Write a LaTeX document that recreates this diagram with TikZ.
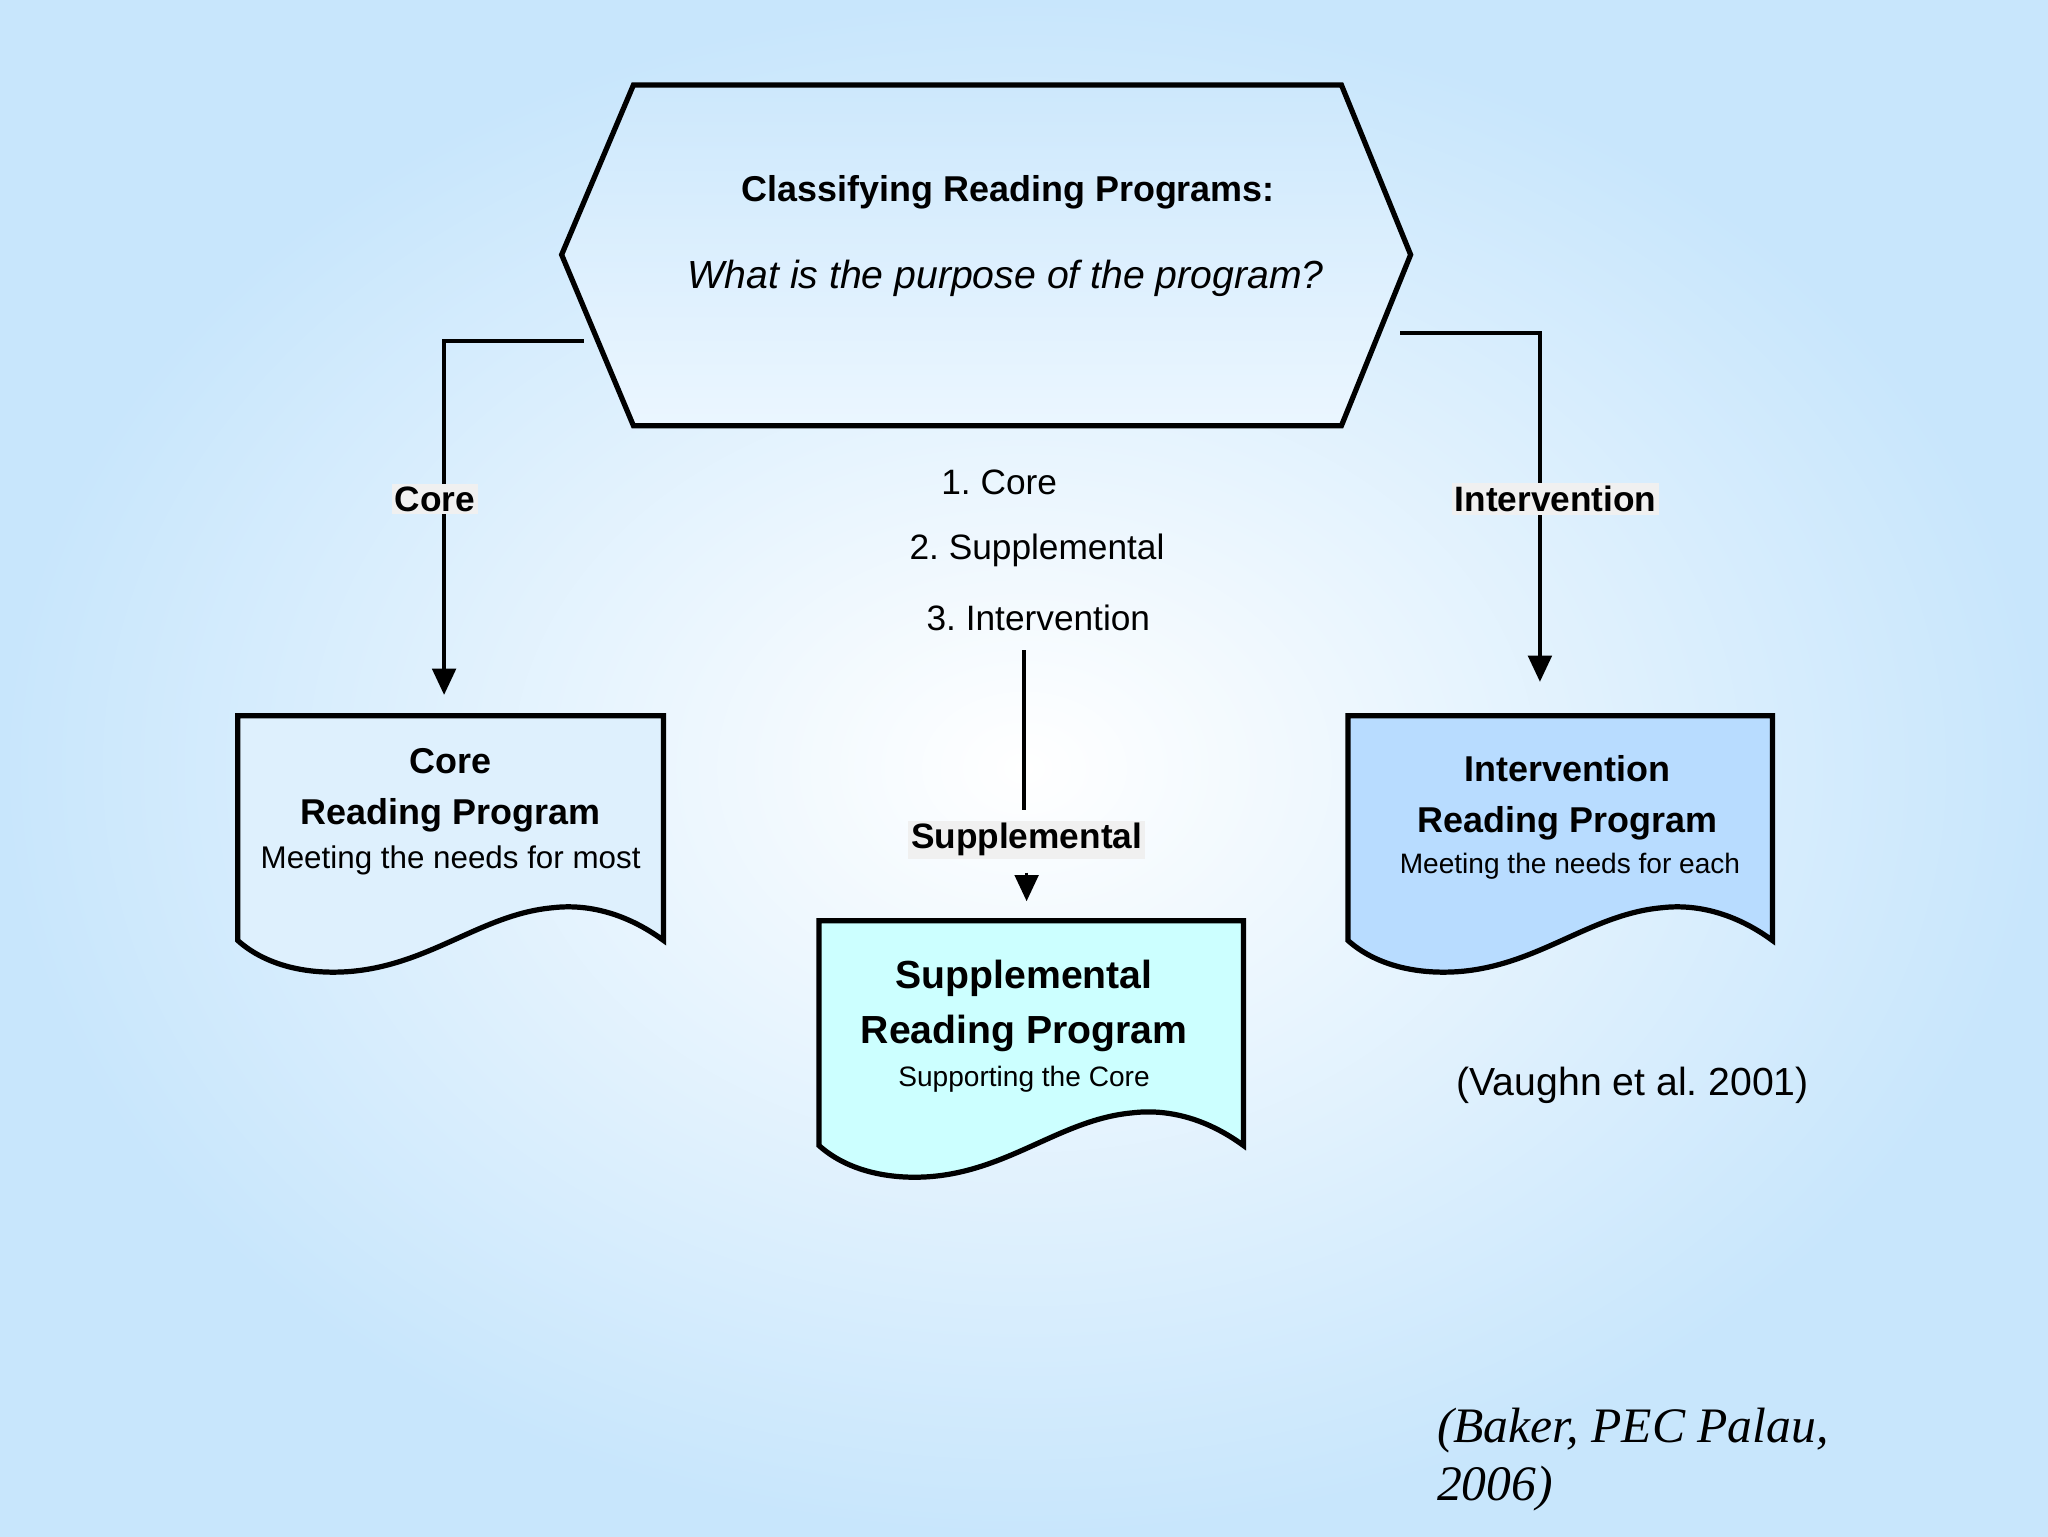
\documentclass[tikz,border=0pt]{standalone}
\usepackage{fontspec}
\setmainfont{Liberation Sans}
\newfontfamily\scriptf{Liberation Serif}
\usetikzlibrary{arrows.meta}
\frenchspacing
\begin{document}
\begin{tikzpicture}[x=1pt,y=-1pt,
  shape line/.style={line width=4pt,line join=miter},
  conn/.style={line width=2.6pt},
  arr/.style={conn,-{Triangle[length=20pt,width=18pt]}},
  lab/.style={fill=black!6,inner sep=2pt,font=\fontsize{27}{32}\selectfont\bfseries},
  txt/.style={align=center,inner sep=0pt}]
\useasboundingbox (0,0) rectangle (1568,1176);
\shade[inner color=white,outer color={rgb,255:red,200;green,230;blue,252}] (0,0) rectangle (1568,1176);
% hexagon
\shade[top color={rgb,255:red,205;green,232;blue,252},bottom color={rgb,255:red,235;green,246;blue,255},draw=black,shape line]
 (485,65) -- (1027,65) -- (1080,195) -- (1027,326) -- (485,326) -- (430,195) -- cycle;
\node[txt,font=\fontsize{27.5}{32}\selectfont\bfseries] (title) at (772,147) {Classifying Reading Programs:};
\node[txt,font=\fontsize{30}{36}\selectfont\itshape] (q) at (770,213) {What is the purpose of the program?};
% list
\node[txt,font=\fontsize{27}{32}\selectfont] (l1) at (765,369) {1. Core};
\node[txt,font=\fontsize{27}{32}\selectfont] (l2) at (794,421) {2. Supplemental};
\node[txt,font=\fontsize{27}{32}\selectfont] (l3) at (795,473) {3. Intervention};
% documents
\newcommand{\docshape}[5]{%
 \filldraw[fill=#5,draw=black,shape line] (#1,#2) -- (#3,#2) -- (#3,#4)
   .. controls (#3-30,#4-22) and (#3-60,#4-28) .. (#3-85,#4-25)
   .. controls (#3-140,#4-20) and (#3-180,#4+20) .. (#1+83,#4+24)
   .. controls (#1+50,#4+26) and (#1+20,#4+18) .. (#1,#4) -- cycle;}
\docshape{182}{548}{508}{720}{{rgb,255:red,222;green,240;blue,253}}
\docshape{627}{705}{952}{877}{{rgb,255:red,204;green,255;blue,255}}
\docshape{1032}{548}{1357}{720}{{rgb,255:red,184;green,220;blue,255}}
\node[txt,font=\fontsize{27.5}{39}\selectfont\bfseries] (coreT) at (345,605) {Core\\Reading Program};
\node[txt,font=\fontsize{24}{28}\selectfont] (coreS) at (345,659) {Meeting the needs for most};
\node[txt,font=\fontsize{30}{42}\selectfont\bfseries] (supT) at (784,770) {Supplemental\\Reading Program};
\node[txt,font=\fontsize{21.5}{25}\selectfont] (supS) at (784,826) {Supporting the Core};
\node[txt,font=\fontsize{27.5}{39}\selectfont\bfseries] (intT) at (1200,611) {Intervention\\Reading Program};
\node[txt,font=\fontsize{21.5}{25}\selectfont] (intS) at (1202,663) {Meeting the needs for each};
% connectors
\coordinate (hl) at (447,261); \coordinate (hlc) at (340,261); \coordinate (hle) at (340,532);
\coordinate (hr) at (1072,255); \coordinate (hrc) at (1179,255); \coordinate (hre) at (1179,522);
\coordinate (ms) at (784,498); \coordinate (me) at (784,620);
\coordinate (as) at (786,668); \coordinate (ae) at (786,690);
\draw[arr] (hl) -- (hlc) -- (hle);
\draw[arr] (hr) -- (hrc) -- (hre);
\draw[conn] (ms) -- (me);
\draw[arr] (as) -- (ae);
\node[lab] (lcore) at (333,382) {Core};
\node[lab] (lint) at (1191,382) {Intervention};
\node[lab] (lsup) at (786,643) {Supplemental};
% citations
\node[txt,font=\fontsize{30}{36}\selectfont] (vau) at (1250,831) {(Vaughn et al. 2001)};
\node[txt,anchor=north west,align=left,font=\fontsize{38}{44}\selectfont\scriptf\itshape] (bak) at (1100,1078) {(Baker, PEC Palau,\\2006)};
\end{tikzpicture}
\end{document}
